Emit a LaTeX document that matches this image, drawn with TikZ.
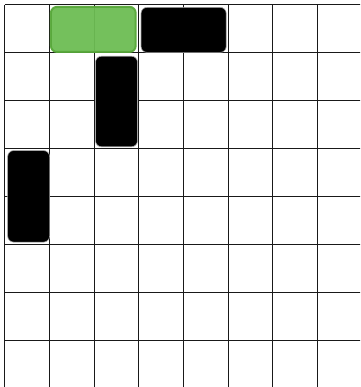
\documentclass[tikz,border=0pt]{standalone}
\usepackage{amsmath, amsfonts, amssymb}
\definecolor{libre}{HTML}{6DBD53}
\definecolor{libreborde}{HTML}{58A83A}

\begin{document}
\begin{tikzpicture}[x=44.6pt, y=-47.9pt,
    muro/.style={fill=black, draw=gray!70, line width=0.6pt, rounded corners=6pt},
    meta/.style={fill=libre, draw=libreborde, line width=2pt, opacity=0.95, rounded corners=6pt}]
            \useasboundingbox (-0.112,-0.104) rectangle (7.96,7.975);
            \clip (-0.112,-0.104) rectangle (7.96,7.975);
            % TABLERO
            \foreach \i in {0,...,8} {
                \draw[black!90, line width=1pt] (\i,0) -- (\i,8.2);
                \draw[black!90, line width=1pt] (0,\i) -- (8.2,\i);
            }
            % OBSTACULOS
            \draw[muro] (3.05,0.05) rectangle (4.96,0.99);
            \draw[muro] (2.03,1.07) rectangle (2.97,2.96);
            \draw[muro] (0.06,3.04) rectangle (1.0,4.95);
            % META
            \draw[meta] (1.03,0.04) rectangle (2.93,0.98);
        \end{tikzpicture}
\end{document}
